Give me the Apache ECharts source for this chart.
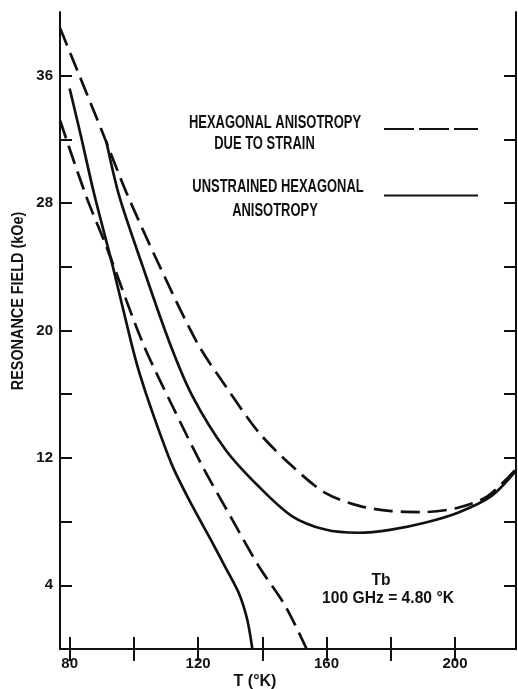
<!DOCTYPE html>
<html>
<head>
<meta charset="utf-8">
<script src="https://cdn.jsdelivr.net/npm/echarts@6/dist/echarts.min.js"></script>
<style>
  html, body { margin: 0; padding: 0; background: #fff; }
  #chart { width: 518px; height: 689px; }
</style>
</head>
<body>
<div id="chart"></div>
<script>
// Tb, 100 GHz: resonance field (kOe) against temperature (K)
const strainedUpper = [
  [77, 39.0], [90.3, 32.4], [97.6, 28.7], [107.9, 24.1], [119.8, 19.2],
  [128.6, 16.5], [138.9, 13.6], [149.2, 11.5], [159.6, 9.8], [169.9, 9.0],
  [180.2, 8.66], [190.6, 8.6], [200.9, 8.87], [210.2, 9.6], [219, 11.3]
];
const strainedLower = [
  [77, 33.2], [85.2, 28.4], [91.4, 25.3], [102.7, 19.25], [112.0, 15.26],
  [121.3, 11.5], [130.6, 8.14], [138.9, 5.2], [147.2, 2.69], [153.8, 0]
];
const unstrainedUpper = [
  [91.4, 31.9], [95.5, 28.4], [102.7, 24.06], [111.0, 19.3], [118.2, 15.9],
  [128.6, 12.5], [138.9, 10.2], [149.2, 8.35], [159.6, 7.5], [169.9, 7.3],
  [180.2, 7.5], [190.6, 7.93], [200.9, 8.56], [211.3, 9.6], [219, 11.2]
];
const unstrainedLower = [
  [80, 35.2], [83.3, 32.4], [87.6, 28.6], [93.4, 24.06], [99.1, 19.3],
  [101.7, 17.36], [105.8, 14.85], [112.0, 11.5], [118.2, 8.98], [124.4, 6.7],
  [128.6, 5.1], [132.7, 3.5], [135.3, 1.85], [136.9, 0]
];

const xTicks = [80, 100, 120, 140, 160, 180, 200];
const xLabels = [80, 120, 160, 200];
const yTicks = [4, 8, 12, 16, 20, 24, 28, 32, 36];
const yLabels = [4, 12, 20, 28, 36];

const strainName = 'HEXAGONAL ANISOTROPY DUE TO STRAIN';
const plainName = 'UNSTRAINED HEXAGONAL ANISOTROPY';

const FONT = '"Liberation Sans", Arial, sans-serif';
const INK = '#111';

const chart = echarts.init(document.getElementById('chart'));

const frameAxis = (pos, ticks) => ({
  type: 'value',
  position: pos,
  axisLine: { lineStyle: { color: INK, width: 2 } },
  axisTick: { inside: true, length: 12, customValues: ticks, lineStyle: { color: INK, width: 2 } },
  splitLine: { show: false }
});

const curve = (name, data, dashed) => ({
  name,
  type: 'line',
  data,
  smooth: 0.3,
  symbol: 'none',
  itemStyle: { color: INK },
  lineStyle: { color: INK, width: 2.7, type: dashed ? [19, 8] : 'solid' },
  z: 3
});

const label = (text, x, y, size, sx, extra) => Object.assign({
  type: 'text',
  x, y,
  scaleX: sx,
  style: {
    text,
    font: 'bold ' + size + 'px ' + FONT,
    fill: INK,
    align: 'center',
    verticalAlign: 'middle',
    textAlign: 'center',
    textVerticalAlign: 'middle'
  }
}, extra || {});

chart.setOption({
  backgroundColor: '#fff',
  animation: false,
  grid: { left: 60, right: 2, top: 12, bottom: 40 },
  xAxis: [
    Object.assign(frameAxis('bottom', xTicks), {
      min: 77, max: 219,
      axisLabel: {
        customValues: xLabels, color: INK, fontSize: 15, fontWeight: 'bold',
        fontFamily: FONT, margin: 7
      }
    }),
    Object.assign(frameAxis('top', xTicks), { min: 77, max: 219, axisLabel: { show: false } })
  ],
  yAxis: [
    Object.assign(frameAxis('left', yTicks), {
      min: 0, max: 40,
      axisLabel: {
        customValues: yLabels, color: INK, fontSize: 15, fontWeight: 'bold',
        fontFamily: FONT, margin: 7
      }
    }),
    Object.assign(frameAxis('right', yTicks), { min: 0, max: 40, axisLabel: { show: false } })
  ],
  legend: {
    data: [
      { name: strainName, lineStyle: { type: [30, 5] } },
      { name: plainName }
    ],
    orient: 'vertical',
    left: 383,
    top: 122,
    itemWidth: 94,
    itemHeight: 14,
    itemGap: 54,
    padding: 0,
    selectedMode: false,
    itemStyle: { opacity: 0, borderWidth: 0 },
    formatter: () => '',
    textStyle: { fontSize: 1 }
  },
  graphic: [
    label('RESONANCE FIELD (kOe)', 19, 301, 16, 0.9, { rotation: Math.PI / 2 }),
    label('T (°K)', 255, 682, 16, 1),
    label('HEXAGONAL ANISOTROPY', 275, 123, 18, 0.72),
    label('DUE TO STRAIN', 264.5, 144, 18, 0.72),
    label('UNSTRAINED HEXAGONAL', 278, 187, 18, 0.72),
    label('ANISOTROPY', 275, 211, 18, 0.72),
    label('Tb', 381, 580, 17, 0.92),
    label('100 GHz = 4.80 °K', 388, 598, 17, 0.92)
  ],
  series: [
    curve(strainName, strainedUpper, true),
    curve(strainName, strainedLower, true),
    curve(plainName, unstrainedUpper, false),
    curve(plainName, unstrainedLower, false)
  ]
});
</script>
</body>
</html>
